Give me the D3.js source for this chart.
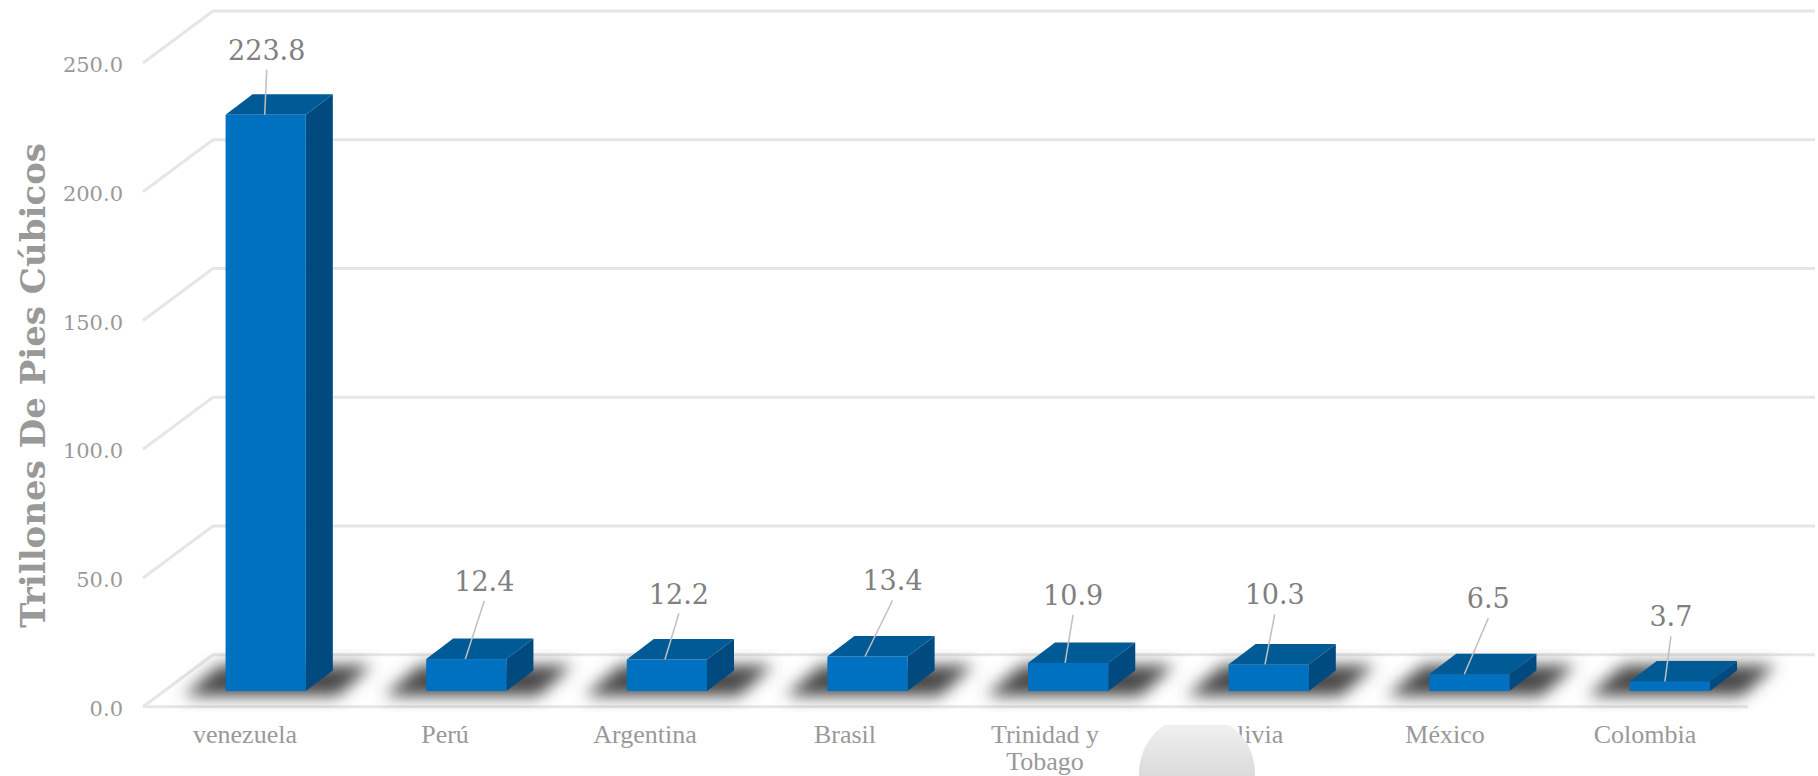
<!DOCTYPE html>
<html>
<head>
<meta charset="utf-8">
<script src="https://cdn.jsdelivr.net/npm/d3@7"></script>
<style>
  html, body { margin: 0; padding: 0; background: #fff; }
  svg { display: block; }
  text { font-family: "DejaVu Serif", serif; }
</style>
</head>
<body>
<svg id="drawing_region"></svg>
<script>
const categories = ["venezuela", "Perú", "Argentina", "Brasil", "Trinidad y Tobago", "Bolivia", "México", "Colombia"];
const reserves = [223.8, 12.4, 12.2, 13.4, 10.9, 10.3, 6.5, 3.7];
const yTicks = [0, 50, 100, 150, 200, 250];
const axisTitle = "Trillones De Pies Cúbicos";

// hand placed labels: offset from the centre of the bar top
const labelDx = [1, 18, 12, 25, 5, 6, 19, 1];
const labelDy = [-55, -68, -56, -66, -58, -60, -66, -55];
const leaderDx = [-1, -1, -2, -2.5, -3, -3.7, -5, -5];

const width = 1818, height = 776;
const wall = {dx: 70, dy: 52};     // floor depth of the plot
const depth = {dx: 27, dy: 20.5};  // depth of one bar
const inset = 15.7;                // bars stand this far behind the front edge

const svg = d3.select("#drawing_region").attr("width", width).attr("height", height);

const defs = svg.append("defs");
defs.append("filter").attr("id", "soft").attr("x", "-30%").attr("y", "-50%").attr("width", "160%").attr("height", "200%")
    .append("feGaussianBlur").attr("stdDeviation", 8);

const grad = defs.append("linearGradient").attr("id", "blob").attr("x1", 0).attr("y1", 0).attr("x2", 0).attr("y2", 1);
grad.append("stop").attr("offset", "0%").attr("stop-color", "#f4f4f4");
grad.append("stop").attr("offset", "100%").attr("stop-color", "#c4c4c4");
defs.append("clipPath").attr("id", "blobClip").append("rect").attr("x", 1100).attr("y", 725).attr("width", 200).attr("height", 60);

const y = d3.scaleLinear().domain([0, 250]).range([706.7, 63]);
const xBar = d3.scaleBand().domain(categories).range([165.4, 1770.2]).paddingInner(0.6).paddingOuter(0.3);
const xLabel = d3.scaleBand().domain(categories).range([145, 1745]);

// gridlines
svg.append("g").selectAll("path").data(yTicks).enter().append("path")
    .attr("d", d => `M143,${y(d)}L${143 + wall.dx},${y(d) - wall.dy}H1815`)
    .attr("fill", "none").attr("stroke", "#e6e6e6").attr("stroke-width", 3);
svg.append("line").attr("x1", 143).attr("x2", 1748).attr("y1", y(0)).attr("y2", y(0))
    .attr("stroke", "#e6e6e6").attr("stroke-width", 3);

// y axis
const yAxis = d3.axisLeft(y).tickValues(yTicks).tickFormat(d3.format(".1f")).tickSize(0).tickPadding(0);
const yGroup = svg.append("g").attr("transform", "translate(123,2)").call(yAxis);
yGroup.select(".domain").remove();
yGroup.selectAll("text").style("font-family", "'DejaVu Serif', serif").style("font-size", "21px").attr("fill", "#999");

// x axis
const xAxis = d3.axisBottom(xLabel).tickSize(0).tickPadding(0);
const xGroup = svg.append("g").attr("transform", `translate(0,${y(0)})`).call(xAxis);
xGroup.select(".domain").remove();
xGroup.selectAll("text")
    .style("font-family", "'Liberation Serif', serif").style("font-size", "26px").attr("fill", "#999")
    .attr("y", 36).attr("dy", 0)
    .each(function(d){
        if(d.length < 12) return;
        const words = d.split(" ");
        const el = d3.select(this).text(null);
        el.append("tspan").attr("x", 0).text(words.slice(0, 2).join(" "));
        el.append("tspan").attr("x", 0).attr("dy", 27).text(words.slice(2).join(" "));
    });

// axis title
svg.append("text")
    .attr("transform", "translate(45,385.5) rotate(-90)")
    .attr("text-anchor", "middle")
    .style("font-size", "33px").style("font-weight", "bold")
    .attr("fill", "#999")
    .attr("textLength", 485).attr("lengthAdjust", "spacingAndGlyphs")
    .text(axisTitle);

// shadows, all the same size
const baseY = y(0) - inset;
svg.append("g").attr("filter", "url(#soft)").selectAll("path").data(categories).enter().append("path")
    .attr("d", d => {
        const x0 = xBar(d), x1 = x0 + xBar.bandwidth();
        return `M${x0 - 42},${baseY + 5}L${x0 - 6},${baseY - 26}H${x1 + 66}L${x1 + 32},${baseY + 5}Z`;
    })
    .attr("fill", "#4a4a4a");

// bars
const barData = categories.map((c, i) => ({c: c, v: reserves[i], i: i}));
const bars = svg.append("g").selectAll("g").data(barData).enter().append("g");
const topY = d => y(d.v) - inset;

bars.append("path") // side
    .attr("d", d => {
        const x1 = xBar(d.c) + xBar.bandwidth();
        return `M${x1},${baseY}L${x1 + depth.dx},${baseY - depth.dy}V${topY(d) - depth.dy}L${x1},${topY(d)}Z`;
    })
    .attr("fill", "#004a80");
bars.append("path") // top
    .attr("d", d => {
        const x0 = xBar(d.c), x1 = x0 + xBar.bandwidth();
        return `M${x0},${topY(d)}L${x0 + depth.dx},${topY(d) - depth.dy}H${x1 + depth.dx}L${x1},${topY(d)}Z`;
    })
    .attr("fill", "#005a96");
bars.append("rect") // front
    .attr("x", d => xBar(d.c))
    .attr("y", topY)
    .attr("width", xBar.bandwidth())
    .attr("height", d => baseY - topY(d))
    .attr("fill", "#0070c0");

// leaders and value labels
const cx = d => xBar(d.c) + xBar.bandwidth() / 2;
bars.append("line")
    .attr("x1", d => cx(d) + leaderDx[d.i])
    .attr("y1", topY)
    .attr("x2", d => cx(d) + labelDx[d.i])
    .attr("y2", d => topY(d) + labelDy[d.i] + 10)
    .attr("stroke", "#bfbfbf").attr("stroke-width", 1.5);
bars.append("text")
    .attr("x", d => cx(d) + labelDx[d.i])
    .attr("y", d => topY(d) + labelDy[d.i])
    .attr("text-anchor", "middle")
    .style("font-size", "27px")
    .attr("fill", "#808080")
    .text(d => d.v.toFixed(1));

// grey blob that sits over the Bolivia label in the source
svg.append("circle")
    .attr("cx", 1197).attr("cy", 773).attr("r", 58)
    .attr("clip-path", "url(#blobClip)")
    .attr("fill", "url(#blob)");
</script>
</body>
</html>
